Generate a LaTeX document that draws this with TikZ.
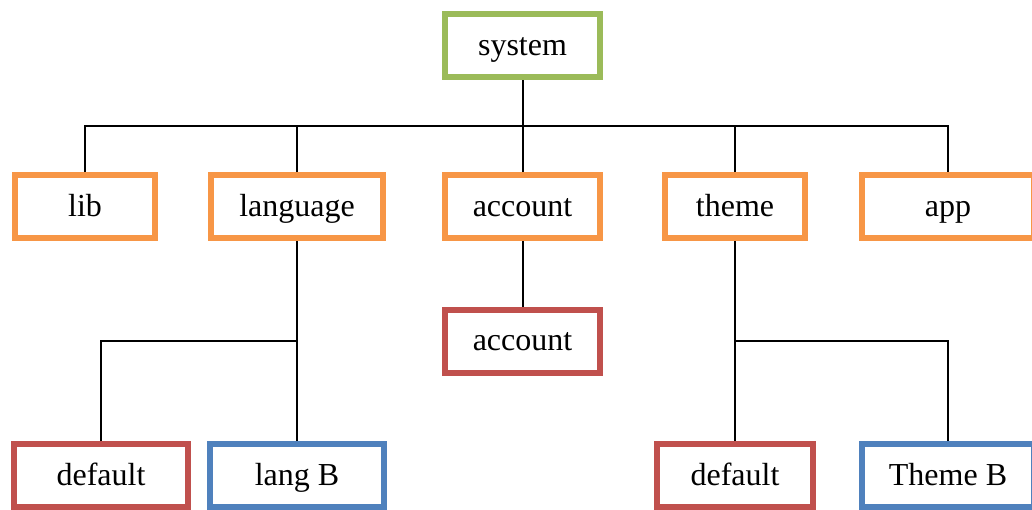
\documentclass[tikz,border=0pt]{standalone}
\usepackage{fontspec}
\setmainfont{Liberation Serif}
\definecolor{cgreen}{HTML}{9BBB59}
\definecolor{corange}{HTML}{F79646}
\definecolor{cred}{HTML}{C0504D}
\definecolor{cblue}{HTML}{4F81BD}
\begin{document}
\begin{tikzpicture}[x=1pt,y=-1pt,
  box/.style={draw, line width=6pt, fill=white, inner sep=0pt, outer sep=3pt,
    minimum height=63pt, text height=26pt, text depth=7pt,
    font=\fontsize{32}{38}\selectfont},
  link/.style={draw=black, line width=2pt}]
\clip (0,0) rectangle (1032,509);
\useasboundingbox (0,0) rectangle (1032,509);
\node[box, draw=cgreen, minimum width=155pt] (system) at (522.5,45.5) {system};
\node[box, draw=corange, minimum width=140pt] (lib) at (85,206.5) {lib};
\node[box, draw=corange, minimum width=172pt] (language) at (297,206.5) {language};
\node[box, draw=corange, minimum width=155pt] (account) at (522.5,206.5) {account};
\node[box, draw=corange, minimum width=140pt] (theme) at (735,206.5) {theme};
\node[box, draw=corange, minimum width=172pt] (app) at (948,206.5) {app};
\node[box, draw=cred, minimum width=155pt] (account2) at (522.5,341) {account};
\node[box, draw=cred, minimum width=174pt] (default1) at (101,475.5) {default};
\node[box, draw=cblue, minimum width=174pt] (langB) at (297,475.5) {lang B};
\node[box, draw=cred, minimum width=156pt] (default2) at (735,475.5) {default};
\node[box, draw=cblue, minimum width=172pt] (themeB) at (948,475.5) {Theme B};
\coordinate (bus) at (522.5,126);
\coordinate (lj) at (297,341);
\coordinate (tj) at (735,341);
\draw[link] (system.south) -- (bus);
\draw[link] (lib.north) |- (bus) -| (app.north);
\draw[link] (language.north) -- (language.north |- bus);
\draw[link] (account.north) -- (bus);
\draw[link] (theme.north) -- (theme.north |- bus);
\draw[link] (language.south) -- (langB.north);
\draw[link] (default1.north) |- (lj);
\draw[link] (account.south) -- (account2.north);
\draw[link] (theme.south) -- (default2.north);
\draw[link] (themeB.north) |- (tj);
\end{tikzpicture}
\end{document}
